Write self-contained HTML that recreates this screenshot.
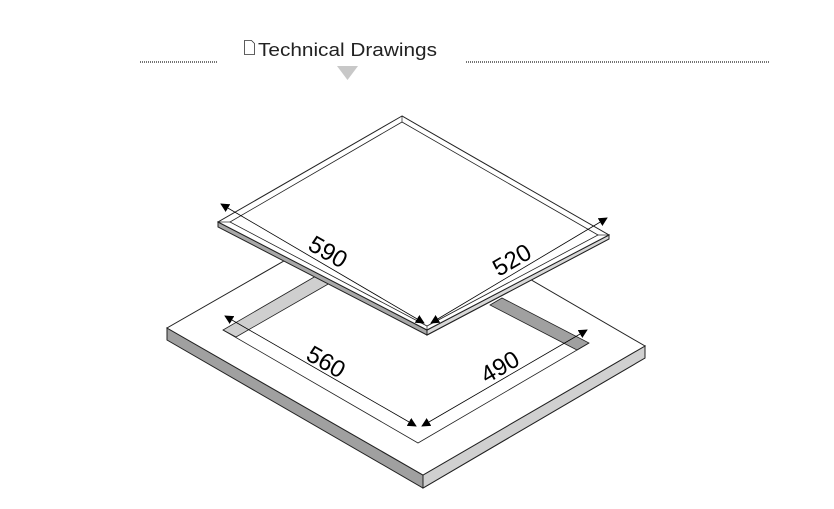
<!DOCTYPE html>
<html><head><style>body{margin:0;background:#fff}svg{display:block}</style></head>
<body>
<svg width="834" height="509" viewBox="0 0 834 509" xmlns="http://www.w3.org/2000/svg" font-family="Liberation Sans, sans-serif">
<defs>
<marker id="a" viewBox="0 0 10 10" refX="9" refY="5" markerWidth="9" markerHeight="9" markerUnits="userSpaceOnUse" orient="auto-start-reverse"><path d="M0,0L10,5L0,10z" fill="#000"/></marker>
</defs>
<!-- header -->
<line x1="140" y1="62" x2="218" y2="62" stroke="#222" stroke-width="1.2" stroke-dasharray="1,1"/>
<line x1="466" y1="62" x2="770" y2="62" stroke="#222" stroke-width="1.2" stroke-dasharray="1,1"/>
<path d="M244.5,40.5h7l3,3v11h-10z" fill="#fff" stroke="#333" stroke-width="0.8"/>
<text x="258" y="56" font-size="18" fill="#222" textLength="179" lengthAdjust="spacingAndGlyphs">Technical Drawings</text>
<polygon points="337,66 358,66 347.5,80" fill="#c8c8c8"/>

<!-- base slab -->
<polygon points="167,328 167,340 423,488 645,358 645,346 423,475" fill="#a0a0a0" stroke="#222" stroke-width="1"/>
<polygon points="423,475 423,488 645,358 645,346" fill="#d0d0d0" stroke="#222" stroke-width="1"/>
<polygon points="392,199 167,328 423,475 645,346" fill="#fff" stroke="#222" stroke-width="1"/>
<!-- cutout -->
<polygon points="223,330 236,337 330,283 316,276" fill="#cfcfcf" stroke="#222" stroke-width="0.8"/>
<polygon points="490,305 502,298 589,343 577,350" fill="#a0a0a0" stroke="#222" stroke-width="0.8"/>
<polyline points="223,330 418,443 589,343" fill="none" stroke="#222" stroke-width="0.8"/>
<!-- dims base -->
<line x1="225" y1="316" x2="416" y2="426" stroke="#000" stroke-width="0.8" marker-start="url(#a)" marker-end="url(#a)"/>
<line x1="422" y1="426" x2="587" y2="330" stroke="#000" stroke-width="0.8" marker-start="url(#a)" marker-end="url(#a)"/>
<text x="326" y="370" font-size="24" fill="#000" text-anchor="middle" transform="rotate(30 326 362)">560</text>
<text x="500" y="375" font-size="24" fill="#000" text-anchor="middle" transform="rotate(-30 500 367)">490</text>

<!-- top panel -->
<polygon points="218,222 218,227 427,335 609,239 609,235 427,330" fill="#a8a8a8" stroke="#222" stroke-width="1"/>
<polygon points="427,330 427,335 609,239 609,235" fill="#d8d8d8" stroke="#222" stroke-width="1"/>
<polygon points="402,116 218,222 427,330 609,235" fill="#fff" stroke="#222" stroke-width="1"/>
<polygon points="402,122 230,222 427,326 598,235" fill="#fff" stroke="#222" stroke-width="0.8"/>
<line x1="402" y1="116" x2="402" y2="122" stroke="#222" stroke-width="0.7"/>
<line x1="218" y1="222" x2="230" y2="222" stroke="#222" stroke-width="0.7"/>
<line x1="427" y1="330" x2="427" y2="326" stroke="#222" stroke-width="0.7"/>
<line x1="609" y1="235" x2="598" y2="235" stroke="#222" stroke-width="0.7"/>
<!-- dims top -->
<line x1="221" y1="204" x2="424" y2="323" stroke="#000" stroke-width="0.8" marker-start="url(#a)" marker-end="url(#a)"/>
<line x1="431" y1="323" x2="607" y2="218" stroke="#000" stroke-width="0.8" marker-start="url(#a)" marker-end="url(#a)"/>
<text x="328" y="260" font-size="24" fill="#000" text-anchor="middle" transform="rotate(30 328 252)">590</text>
<text x="512" y="268" font-size="24" fill="#000" text-anchor="middle" transform="rotate(-30 512 260)">520</text>
</svg>
</body></html>
